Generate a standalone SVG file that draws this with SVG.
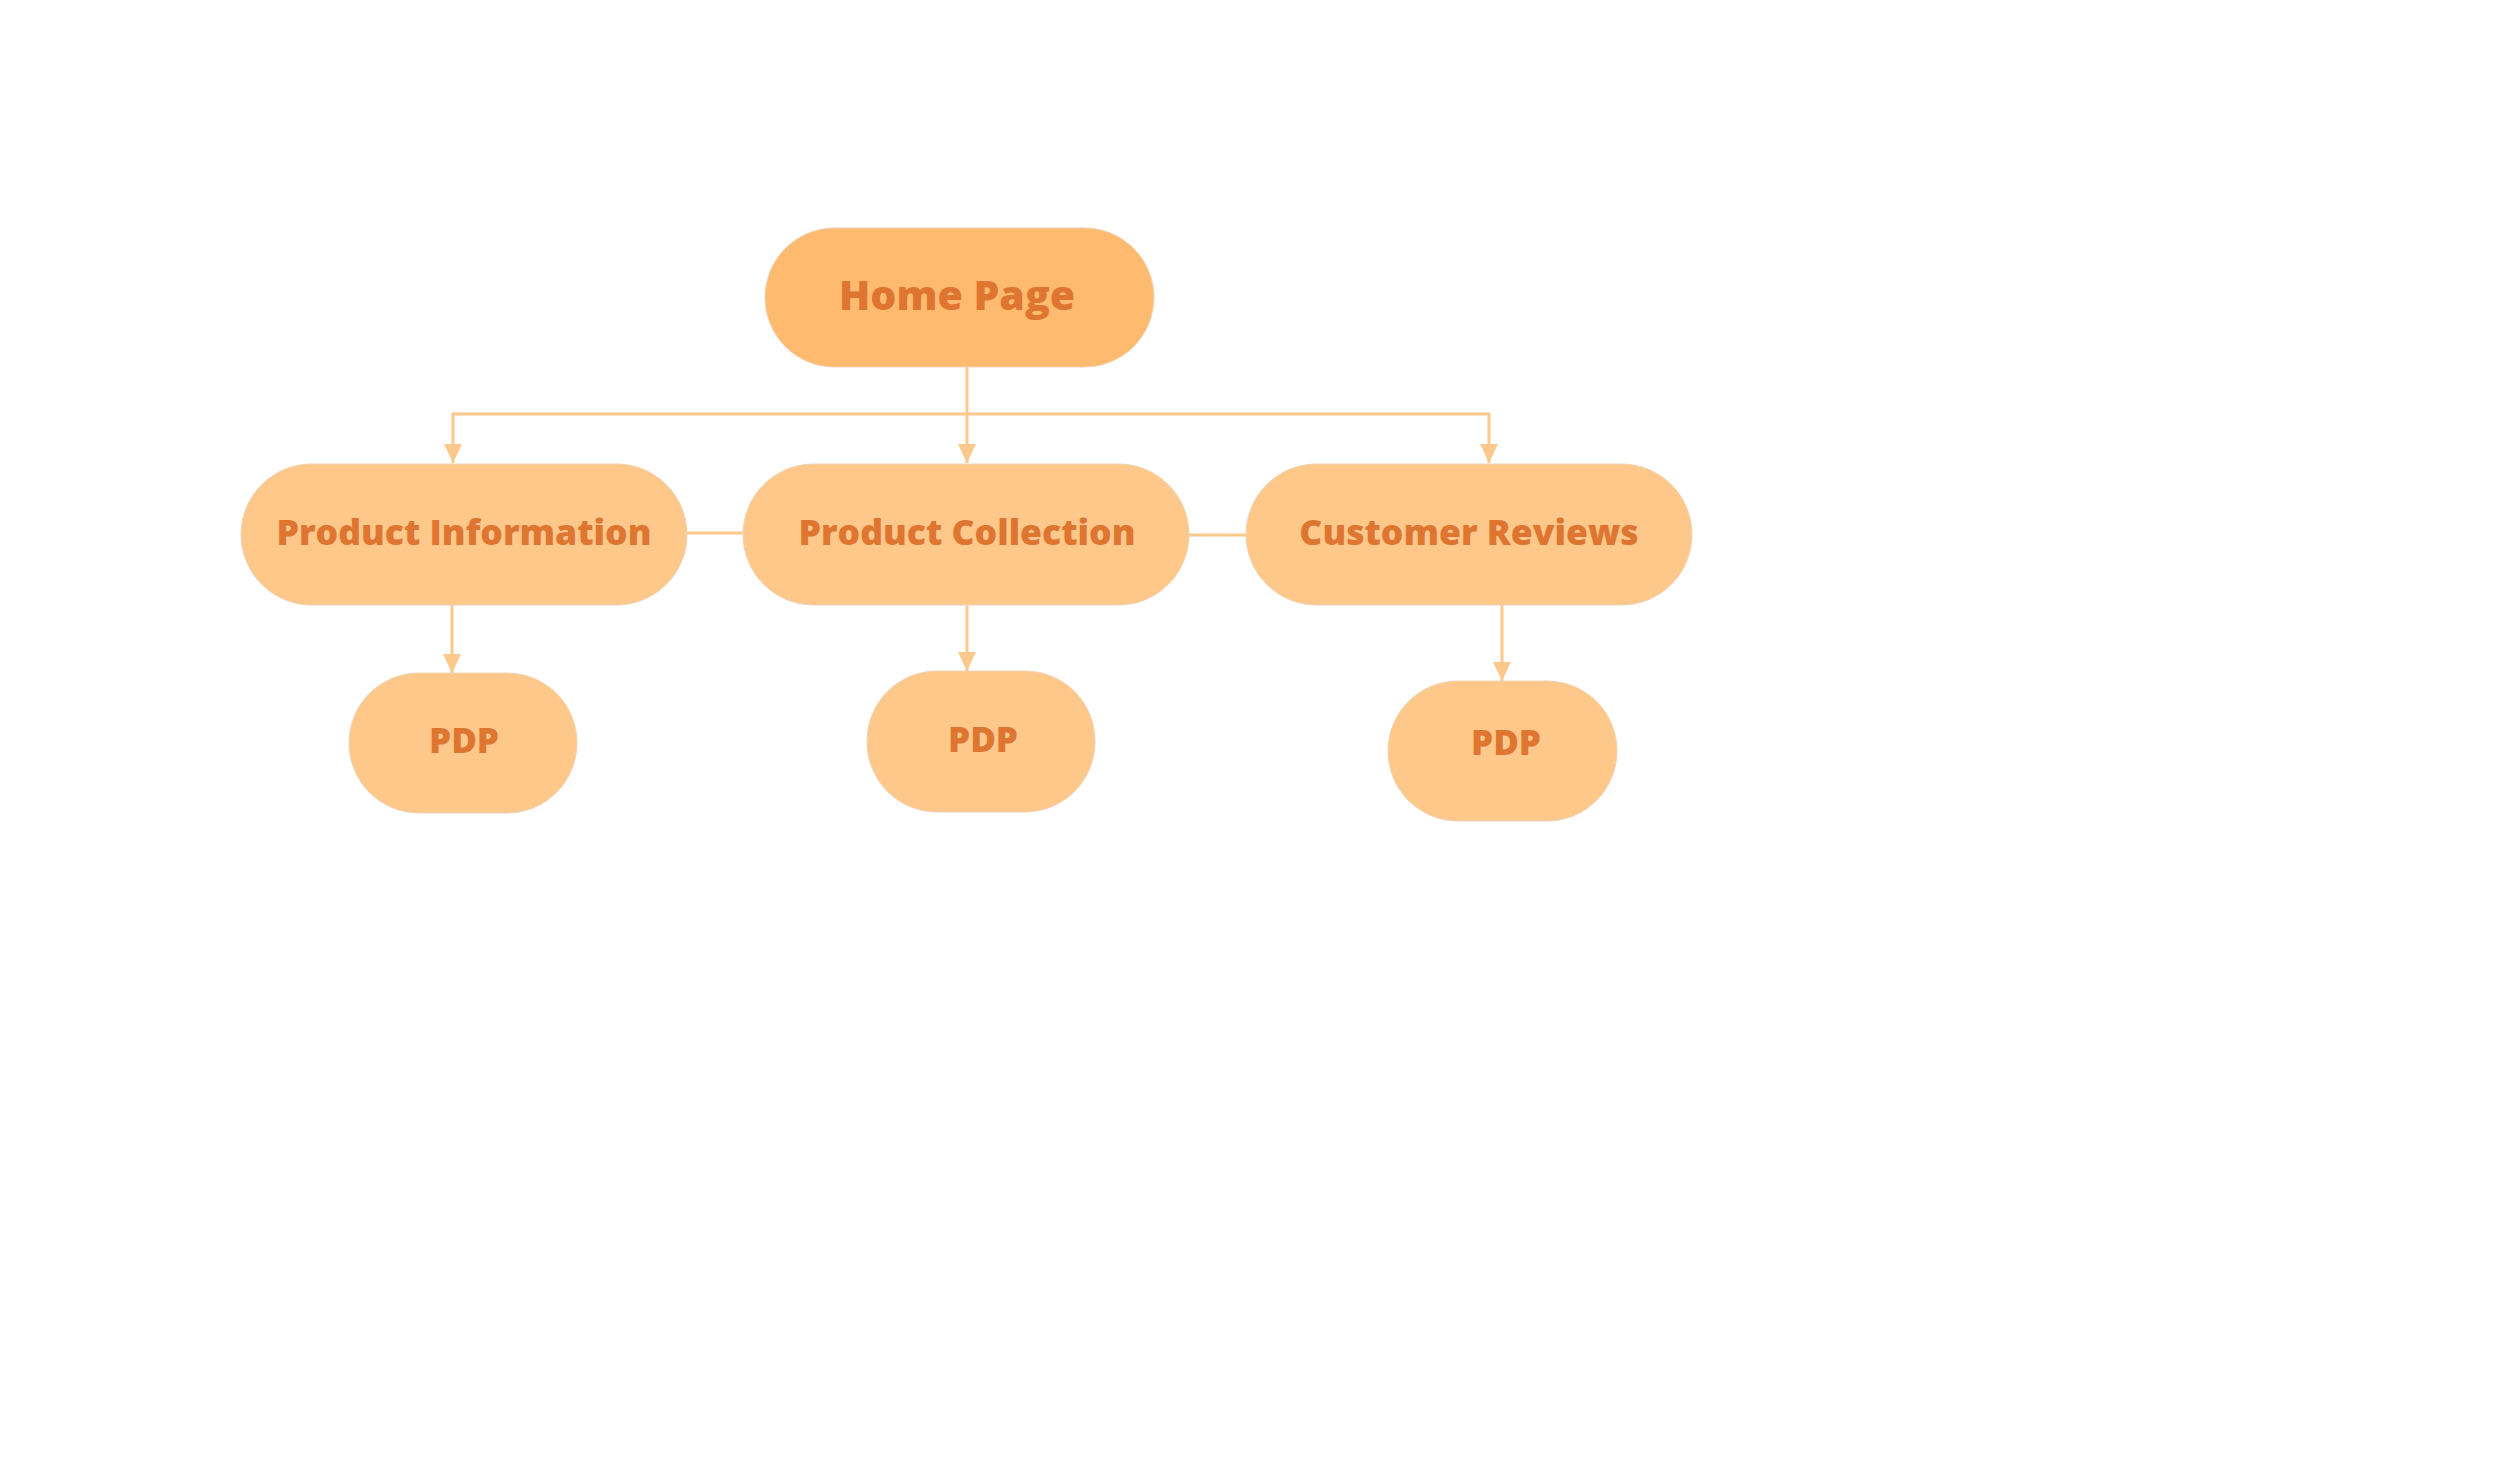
<svg xmlns="http://www.w3.org/2000/svg" width="2500" height="1473" viewBox="0 0 2500 1473">
<style>
.node{fill:#FEC88A;stroke:#EED3B6;stroke-width:1}
.home{fill:#FEBB6F}
.lbl{font-family:"Open Sans","Liberation Sans",sans-serif;font-weight:800;fill:#DE7632;text-anchor:middle}
.edge{fill:none;stroke:#FCC88C;stroke-width:3}
</style>
<defs>
<marker id="arr" markerUnits="userSpaceOnUse" markerWidth="20" markerHeight="18" refX="19" refY="9" orient="auto">
<path d="M0,0 L19,9 L0,18 z" fill="#FCC88C"/>
</marker>
</defs>
<rect width="2500" height="1473" fill="#FFFFFF"/>
<g id="connectors">
<path class="edge" d="M967,367 V463" marker-end="url(#arr)"/>
<path class="edge" d="M967,414 H453 V463" marker-end="url(#arr)"/>
<path class="edge" d="M967,414 H1489 V463" marker-end="url(#arr)"/>
<path class="edge" d="M687,533 H743"/>
<path class="edge" d="M1189,535 H1246"/>
<path class="edge" d="M452,605 V673" marker-end="url(#arr)"/>
<path class="edge" d="M967,605 V671" marker-end="url(#arr)"/>
<path class="edge" d="M1502,605 V681" marker-end="url(#arr)"/>
</g>
<g id="home">
<rect class="node home" x="765" y="228" width="389" height="139" rx="69.5"/>
<text class="lbl" x="957" y="310" font-size="41">Home Page</text>
</g>
<g id="product-information">
<rect class="node" x="241" y="464" width="446" height="141" rx="70.5"/>
<text class="lbl" x="464" y="545" font-size="35.5">Product Information</text>
</g>
<g id="product-collection">
<rect class="node" x="743" y="464" width="446" height="141" rx="70.5"/>
<text class="lbl" x="967" y="545" font-size="35.5">Product Collection</text>
</g>
<g id="customer-reviews">
<rect class="node" x="1246" y="464" width="446" height="141" rx="70.5"/>
<text class="lbl" x="1469" y="545" font-size="35.5">Customer Reviews</text>
</g>
<g id="pdp-1">
<rect class="node" x="349" y="673" width="228" height="140" rx="70"/>
<text class="lbl" x="464" y="753" font-size="35">PDP</text>
</g>
<g id="pdp-2">
<rect class="node" x="867" y="671" width="228" height="141" rx="70"/>
<text class="lbl" x="983" y="752" font-size="35">PDP</text>
</g>
<g id="pdp-3">
<rect class="node" x="1388" y="681" width="229" height="140" rx="70"/>
<text class="lbl" x="1506" y="755" font-size="35">PDP</text>
</g>
</svg>
